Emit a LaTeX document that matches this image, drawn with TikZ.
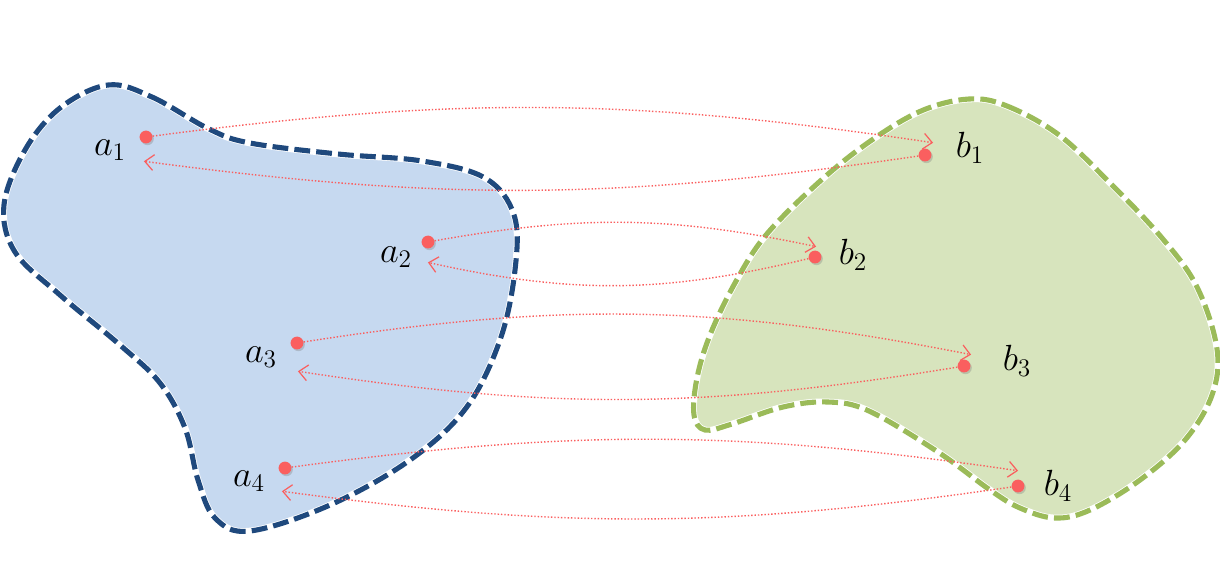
\documentclass[tikz,border=0pt]{standalone}
\usepackage{tikz}
\usetikzlibrary{arrows.meta,shadows}

\definecolor{setAline}{RGB}{31,73,125}
\definecolor{setAfill}{RGB}{198,217,240}
\definecolor{setBline}{RGB}{155,187,89}
\definecolor{setBfill}{RGB}{215,228,189}
\definecolor{mapred}{RGB}{250,95,95}

\begin{document}
\begin{tikzpicture}[
  x=0.02cm, y=-0.02cm,
  blob/.style={line width=2.9pt, dash pattern=on 9pt off 3.5pt},
  dot/.style={circle, fill=mapred, inner sep=0pt, minimum size=7.3pt,
    drop shadow={opacity=0.35, shadow xshift=0.8pt, shadow yshift=-1pt}},
  lbl/.style={font=\huge, inner sep=1pt},
  arrow/.style={mapred, line width=0.8pt, dash pattern=on 0.8pt off 1.1pt,
    -{Straight Barb[length=5pt,width=9pt,line width=0.7pt,sep]}},
]
\useasboundingbox (0,0) rectangle (1220,576);

% Set A (left)
\path[fill=setAfill, draw=white, line width=3.8pt, postaction={draw=setAline, blob}]
  plot[smooth cycle, tension=0.6] coordinates {
    (108,85) (152,97) (209,129) (250,143) (338,154) (422,161) (485,178) (514,215)
    (515,270) (500,340) (466,408) (410,460) (330,505) (250,531) (215,518) (198,480)
    (185,428) (160,383) (120,345) (60,295) (15,252) (4,205) (25,150) (60,108)};

% Set B (right)
\path[fill=setBfill, draw=white, line width=3.8pt, postaction={draw=setBline, blob}]
  plot[smooth cycle, tension=0.6] coordinates {
    (969,99) (1007,106) (1059,135) (1110,183) (1162,238) (1197,287) (1217,349) (1212,395)
    (1185,440) (1140,480) (1090,510) (1055,518) (1020,508) (990,490) (938,452) (869,411)
    (828,402) (783,407) (732,424) (705,430) (694,415) (697,378) (710,335) (735,283)
    (766,235) (818,183) (869,142) (921,111)};

% Elements of A
\node[dot] (pa1) at (146,137) {};
\node[dot] (pa2) at (428,242) {};
\node[dot] (pa3) at (297,343) {};
\node[dot] (pa4) at (285,468) {};
\node[lbl] (la1) at (110,150) {$a_1$};
\node[lbl] (la2) at (396,257) {$a_2$};
\node[lbl] (la3) at (261,357) {$a_3$};
\node[lbl] (la4) at (249,481) {$a_4$};
\coordinate (ta1) at (142,161);
\coordinate (ta2) at (426,262);
\coordinate (ta3) at (296,371);
\coordinate (ta4) at (280,491);

% Elements of B
\node[dot] (pb1) at (925,155) {};
\node[dot] (pb2) at (815,257) {};
\node[dot] (pb3) at (964,366) {};
\node[dot] (pb4) at (1018,486) {};
\node[lbl] (lb1) at (970,148) {$b_1$};
\node[lbl] (lb2) at (853,255) {$b_2$};
\node[lbl] (lb3) at (1017,361) {$b_3$};
\node[lbl] (lb4) at (1058,486) {$b_4$};
\coordinate (tb1) at (935,143);
\coordinate (tb2) at (818,247);
\coordinate (tb3) at (973,355);
\coordinate (tb4) at (1020,471);

% Mappings
\draw[arrow] (pa1) to[bend left=8] (tb1);
\draw[arrow] (pb1) to[bend left=8] (ta1);
\draw[arrow] (pa2) to[bend left=11] (tb2);
\draw[arrow] (pb2) to[bend left=13] (ta2);
\draw[arrow] (pa3) to[bend left=10] (tb3);
\draw[arrow] (pb3) to[bend left=9] (ta3);
\draw[arrow] (pa4) to[bend left=8] (tb4);
\draw[arrow] (pb4) to[bend left=8] (ta4);

\end{tikzpicture}
\end{document}
